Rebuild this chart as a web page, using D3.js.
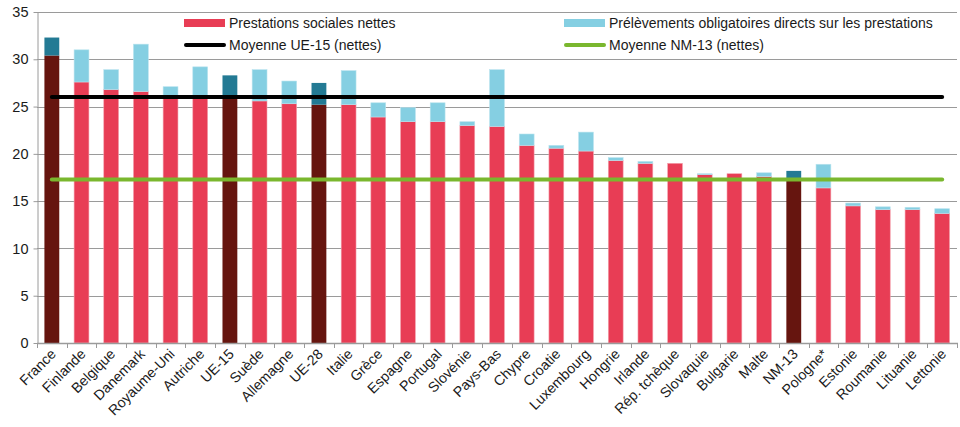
<!DOCTYPE html>
<html>
<head>
<meta charset="utf-8">
<script src="https://cdn.jsdelivr.net/npm/d3@7"></script>
<style>
  html, body { margin: 0; padding: 0; background: #fff; }
  svg { display: block; font-family: "Liberation Sans", Arial, sans-serif; }
</style>
</head>
<body>
<svg id="chart" width="960" height="427"></svg>
<script>
const categories = ["France","Finlande","Belgique","Danemark","Royaume-Uni","Autriche","UE-15","Suède","Allemagne","UE-28","Italie","Grèce","Espagne","Portugal","Slovénie","Pays-Bas","Chypre","Croatie","Luxembourg","Hongrie","Irlande","Rép. tchèque","Slovaquie","Bulgarie","Malte","NM-13","Pologne*","Estonie","Roumanie","Lituanie","Lettonie"];
const netValues = [30.4,27.6,26.8,26.6,25.9,25.9,26.0,25.6,25.3,25.2,25.2,23.9,23.4,23.4,23.0,22.9,20.9,20.6,20.3,19.3,19.0,19.0,17.8,17.9,17.6,17.3,16.4,14.5,14.1,14.1,13.7];
const taxValues = [1.9,3.4,2.1,5.0,1.2,3.3,2.3,3.3,2.4,2.3,3.6,1.5,1.5,2.0,0.4,6.0,1.2,0.3,2.0,0.3,0.2,0.0,0.1,0.0,0.4,0.9,2.5,0.3,0.3,0.25,0.5];
const highlighted = ["France","UE-15","UE-28","NM-13"];
const avgUE15 = 26.0;
const avgNM13 = 17.3;
const yTicks = [0,5,10,15,20,25,30,35];
const legendLabels = ["Prestations sociales nettes","Prélèvements obligatoires directs sur les prestations","Moyenne UE-15 (nettes)","Moyenne NM-13 (nettes)"];

(function () {
const colors = { net: "#E83D55", tax: "#85CFE2", netHi: "#66150F", taxHi: "#237A94", ue15: "#000000", nm13: "#7AB72E", grid: "#9a9a9a", text: "#1a1a1a" };

const svg = d3.select("#chart");
const mLeft = 37, mRight = 957, mTop = 12, mBottom = 343;

const x = d3.scaleBand().domain(categories).range([mLeft, mRight]).paddingInner(0.5).paddingOuter(0.25);
const y = d3.scaleLinear().domain([0, 35]).range([mBottom, mTop]);

// gridlines
svg.append("g").selectAll("line").data(yTicks.filter(d => d > 0)).join("line")
  .attr("x1", mLeft).attr("x2", mRight)
  .attr("y1", d => Math.round(y(d)) + 0.5).attr("y2", d => Math.round(y(d)) + 0.5)
  .attr("stroke", colors.grid).attr("stroke-width", 1);

// y axis
const yAxis = svg.append("g").attr("transform", `translate(${mLeft + 0.5},0)`)
  .call(d3.axisLeft(y).tickValues(yTicks).tickSize(4).tickSizeOuter(0).tickPadding(5));
yAxis.select(".domain").attr("stroke", colors.grid);
yAxis.selectAll(".tick line").attr("stroke", colors.grid);
yAxis.selectAll(".tick text").attr("font-size", 14.5).attr("fill", colors.text).attr("font-family", "Liberation Sans, Arial, sans-serif");

// legend background
svg.append("rect").attr("x", 175).attr("y", y(35) + 1.5).attr("width", mRight - 175).attr("height", y(30) - y(35) - 2).attr("fill", "#fff");

// bars
const step = x.step();
const barG = svg.append("g");
categories.forEach((c, i) => {
  const hi = highlighted.includes(c);
  const n = netValues[i], t = taxValues[i];
  barG.append("rect")
    .attr("x", x(c)).attr("width", x.bandwidth())
    .attr("y", y(n)).attr("height", y(0) - y(n))
    .attr("fill", hi ? colors.netHi : colors.net)
    .attr("stroke", hi ? "none" : "#f4a3af").attr("stroke-width", 0.6);
  if (t > 0) {
    barG.append("rect")
      .attr("x", x(c)).attr("width", x.bandwidth())
      .attr("y", y(n + t)).attr("height", y(n) - y(n + t))
      .attr("fill", hi ? colors.taxHi : colors.tax)
      .attr("stroke", hi ? "none" : "#b9e3ee").attr("stroke-width", 0.6);
  }
});

// x axis
const xg = svg.append("g");
xg.append("line").attr("x1", mLeft).attr("x2", mRight + 1).attr("y1", mBottom + 0.5).attr("y2", mBottom + 0.5).attr("stroke", colors.grid).attr("stroke-width", 1.5);
const bounds = d3.range(categories.length + 1).map(i => mLeft + i * step);
xg.selectAll(".xt").data(bounds).join("line")
  .attr("x1", d => Math.round(d) + 0.5).attr("x2", d => Math.round(d) + 0.5)
  .attr("y1", mBottom).attr("y2", mBottom + 5)
  .attr("stroke", colors.grid).attr("stroke-width", 1);

xg.selectAll(".xl").data(categories).join("text")
  .attr("transform", d => `translate(${x(d) + x.bandwidth() / 2 + 5},${mBottom + 12}) rotate(-45)`)
  .attr("text-anchor", "end")
  .attr("font-size", 14.2)
  .attr("fill", colors.text)
  .text(d => d);

// average lines
const x0 = x(categories[0]) + x.bandwidth() / 2;
const x1 = x(categories[categories.length - 1]) + x.bandwidth() / 2;
svg.append("line").attr("x1", x0).attr("x2", x1).attr("y1", y(avgUE15)).attr("y2", y(avgUE15))
  .attr("stroke", colors.ue15).attr("stroke-width", 4).attr("stroke-linecap", "round");
svg.append("line").attr("x1", x0).attr("x2", x1).attr("y1", y(avgNM13)).attr("y2", y(avgNM13))
  .attr("stroke", colors.nm13).attr("stroke-width", 4).attr("stroke-linecap", "round");

// legend
const lg = svg.append("g").attr("font-size", 14).attr("fill", colors.text);
const lx = [184, 564];
lg.append("rect").attr("x", lx[0]).attr("y", 19).attr("width", 41).attr("height", 8).attr("fill", colors.net);
lg.append("text").attr("x", lx[0] + 45).attr("y", 28).text(legendLabels[0]);
lg.append("rect").attr("x", lx[1]).attr("y", 19).attr("width", 41).attr("height", 8).attr("fill", colors.tax);
lg.append("text").attr("x", lx[1] + 45).attr("y", 28).text(legendLabels[1]);
lg.append("line").attr("x1", lx[0] + 2).attr("x2", lx[0] + 40).attr("y1", 45).attr("y2", 45).attr("stroke", colors.ue15).attr("stroke-width", 4).attr("stroke-linecap", "round");
lg.append("text").attr("x", lx[0] + 45).attr("y", 50).text(legendLabels[2]);
lg.append("line").attr("x1", lx[1] + 2).attr("x2", lx[1] + 40).attr("y1", 45).attr("y2", 45).attr("stroke", colors.nm13).attr("stroke-width", 4).attr("stroke-linecap", "round");
lg.append("text").attr("x", lx[1] + 45).attr("y", 50).text(legendLabels[3]);
})();
</script>
</body>
</html>
